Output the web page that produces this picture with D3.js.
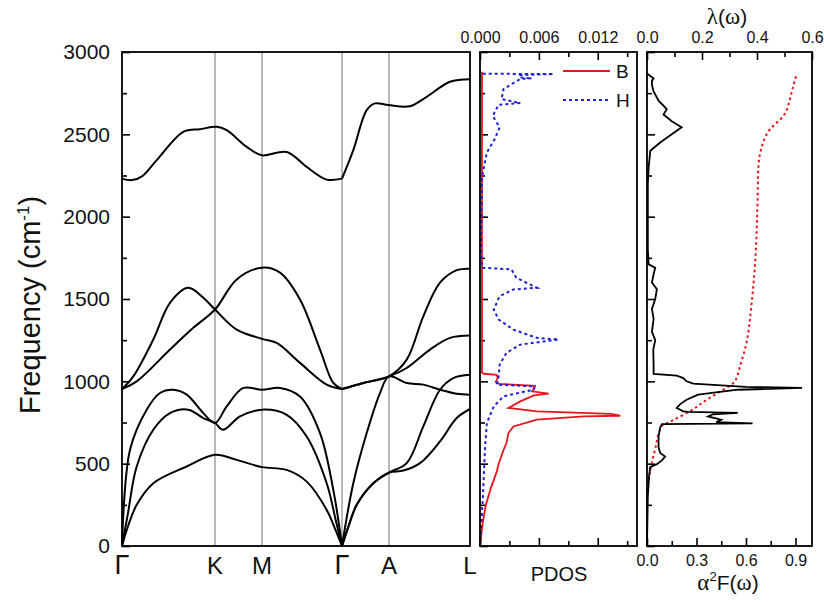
<!DOCTYPE html>
<html><head><meta charset="utf-8">
<script src="https://cdn.jsdelivr.net/npm/d3@7"></script>
<style>body{margin:0;background:#fff} svg text{font-family:Arial,"Liberation Sans",sans-serif;fill:#111}</style>
</head><body><svg id="c" width="824" height="602"></svg>
<script>
// ---- data ----
const kLabels = ["Γ","K","M","Γ","A","L"];
const kPos = [0, 0.93, 1.40, 2.20, 2.67, 3.48];
const freqMajor = [0, 500, 1000, 1500, 2000, 2500, 3000];
const freqMinor = [250, 750, 1250, 1750, 2250, 2750];

const band1 = [[0,0],[0.06,120],[0.147,250],[0.313,381],[0.647,483],[0.93,554],[1.147,523],[1.40,479],[1.647,462],[1.847,391],[2.047,219],[2.14,90],[2.20,0],
  [2.26,110],[2.347,250],[2.513,381],[2.67,446],[2.813,458],[2.98,503],[3.18,635],[3.347,777],[3.48,832]];
const band2 = [[0,0],[0.06,200],[0.147,483],[0.313,706],[0.48,807],[0.663,828],[0.813,777],[0.93,747],[1.01,706],[1.18,787],[1.40,828],[1.647,797],[1.847,665],[2.047,381],[2.14,150],[2.20,0],
  [2.26,110],[2.347,250],[2.513,381],[2.67,446],[2.847,503],[3.013,726],[3.18,949],[3.313,1020],[3.48,1040]];
const band3 = [[0,0],[0.08,584],[0.247,828],[0.38,929],[0.513,949],[0.647,919],[0.813,807],[0.93,747],[1.047,848],[1.213,960],[1.40,949],[1.58,960],[1.78,908],[1.98,686],[2.113,341],[2.20,0],
  [2.313,381],[2.447,686],[2.58,929],[2.67,1030],[2.847,990],[3.013,980],[3.18,949],[3.347,925],[3.48,919]];
const band4 = [[0,953],[0.113,1030],[0.313,1254],[0.48,1477],[0.663,1568],[0.813,1507],[0.93,1436],[1.147,1314],[1.40,1258],[1.547,1233],[1.78,1112],[2.047,980],[2.20,953],
  [2.413,990],[2.67,1030],[2.847,1132],[3.013,1395],[3.18,1599],[3.347,1675],[3.48,1684]];
const band5 = [[0,953],[0.147,1000],[0.48,1193],[0.713,1325],[0.93,1436],[1.147,1619],[1.40,1690],[1.58,1660],[1.78,1497],[1.98,1193],[2.113,990],[2.20,953],
  [2.413,990],[2.67,1030],[2.847,1081],[3.08,1193],[3.28,1264],[3.48,1278]];
const band6 = [[0,2231],[0.1,2222],[0.2,2245],[0.347,2343],[0.613,2515],[0.78,2531],[0.947,2546],[1.047,2525],[1.247,2424],[1.397,2373],[1.647,2393],[1.847,2302],[2.047,2225],[2.20,2231],
  [2.313,2404],[2.447,2647],[2.53,2688],[2.663,2678],[2.88,2671],[3.047,2728],[3.28,2819],[3.48,2834]];
const bands = [band1, band2, band3, band4, band5, band6];

// PDOS  [frequency, states]
const pdosB = [[0,0],[50,0.0001],[150,0.0003],[250,0.0006],[350,0.0011],[450,0.0017],[500,0.0019],[584,0.0024],[625,0.0027],[686,0.0029],[726,0.0034],[767,0.0058],[787,0.0106],[791,0.0143],[803,0.0133],[818,0.0058],[838,0.0029],[878,0.0041],[915,0.0055],[925,0.0070],[939,0.0053],[955,0.0055],[972,0.0056],[985,0.0020],[995,0.0016],[1020,0.0018],[1040,0.0017],[1046,0.0004],[1052,0.0002],[1500,0.0002],[2000,0.0002],[2880,0.0002]];
const pdosH = [[0,0],[100,0.0001],[300,0.0003],[584,0.0005],[747,0.0007],[848,0.0014],[909,0.0024],[949,0.0054],[969,0.0056],[980,0.0017],[1030,0.0019],[1101,0.0020],[1173,0.0027],[1223,0.0041],[1254,0.0080],[1264,0.0058],[1314,0.0034],[1375,0.0019],[1436,0.0014],[1517,0.0020],[1558,0.0034],[1568,0.0058],[1629,0.0037],[1680,0.0032],[1690,0.0002],[1800,0.0001],[2227,0.0002],[2268,0.0003],[2390,0.0007],[2471,0.0015],[2542,0.0020],[2612,0.0013],[2680,0.0019],[2690,0.0041],[2714,0.0022],[2775,0.0024],[2836,0.0041],[2840,0.0053],[2846,0.0040],[2860,0.0041],[2866,0.0075],[2868,0.0002]];
const pdosNames = ["B", "H"];

// Eliashberg function and lambda  [frequency, value]
const a2F = [[0,0],[300,0.005],[420,0.012],[480,0.02],[497,0.06],[520,0.09],[543,0.11],[565,0.08],[600,0.07],[665,0.07],[720,0.08],[740,0.09],[745,0.64],[752,0.42],[767,0.45],[787,0.37],[800,0.40],[808,0.55],[815,0.25],[818,0.22],[838,0.18],[860,0.20],[888,0.24],[919,0.31],[949,0.55],[960,0.94],[966,0.60],[975,0.45],[986,0.28],[1000,0.24],[1020,0.22],[1035,0.18],[1045,0.04],[1100,0.04],[1193,0.038],[1250,0.05],[1300,0.03],[1380,0.04],[1440,0.03],[1500,0.05],[1560,0.06],[1600,0.03],[1650,0.04],[1690,0.05],[1710,0.01],[1800,0.005],[2200,0.005],[2300,0.01],[2400,0.02],[2450,0.08],[2500,0.15],[2543,0.21],[2580,0.15],[2620,0.10],[2653,0.12],[2704,0.07],[2760,0.04],[2800,0.03],[2826,0.03],[2840,0.04],[2856,0.018],[2870,0]];
const lambda = [[0,0],[300,0.0],[381,0.005],[503,0.017],[584,0.029],[726,0.053],[760,0.09],[818,0.156],[888,0.217],[949,0.277],[990,0.314],[1040,0.33],[1091,0.338],[1193,0.356],[1500,0.382],[1800,0.396],[2100,0.402],[2300,0.405],[2410,0.415],[2530,0.447],[2612,0.496],[2714,0.52],[2755,0.526],[2866,0.544]];

const pdosMajor = [0, 0.006, 0.012], pdosMinor = [0.003, 0.009, 0.015];
const lamMajor = [0, 0.2, 0.4, 0.6], lamMinor = [0.1, 0.3, 0.5];
const a2fMajor = [0, 0.3, 0.6, 0.9], a2fMinor = [0.15, 0.45, 0.75];

// ---- layout ----
const svg = d3.select("#c");
const T = 52, B = 546;
const P1 = [122, 470], P2 = [480, 637], P3 = [647, 812];
const yF = d3.scaleLinear().domain([0, 3000]).range([B, T]);
const xK = d3.scaleLinear().domain([0, 3.48]).range(P1);
const xP = d3.scaleLinear().domain([0, 0.016]).range(P2);
const xA = d3.scaleLinear().domain([0, 1.0]).range(P3);
const xL = d3.scaleLinear().domain([0, 0.6]).range(P3);

function styleAxis(g, fs) {
  g.select(".domain").remove();
  g.selectAll(".tick line").attr("stroke", "#000").attr("stroke-width", 1.6);
  g.selectAll(".tick text").attr("font-size", fs).attr("fill", "#111").attr("font-family", "Arial, Liberation Sans, sans-serif");
}
function leftAxis(x0, labels) {
  const g = svg.append("g").attr("transform", `translate(${x0},0)`)
    .call(d3.axisLeft(yF).tickValues(freqMajor).tickSize(-8).tickPadding(12).tickFormat(labels ? d3.format("d") : ""));
  styleAxis(g, 21);
  const g2 = svg.append("g").attr("transform", `translate(${x0},0)`)
    .call(d3.axisLeft(yF).tickValues(freqMinor).tickSize(-5).tickFormat(""));
  styleAxis(g2, 21);
}
leftAxis(P1[0], true);
leftAxis(P2[0], false);
leftAxis(P3[0], false);

// high-symmetry vertical lines
svg.append("g").selectAll("line").data(kPos.slice(1, -1)).join("line")
  .attr("x1", d => xK(d)).attr("x2", d => xK(d)).attr("y1", T).attr("y2", B)
  .attr("stroke", "#888").attr("stroke-width", 1.2);

// k labels
svg.append("g").selectAll("text").data(kLabels).join("text")
  .attr("x", (d, i) => xK(kPos[i])).attr("y", 574).attr("text-anchor", "middle")
  .attr("font-size", d => d === "Γ" ? 27 : 24)
  .attr("font-family", d => d === "Γ" ? "Liberation Serif, serif" : "Arial, Liberation Sans, sans-serif")
  .text(d => d);

// bands
const bandLine = d3.line().x(d => xK(d[0])).y(d => yF(d[1])).curve(d3.curveCatmullRom.alpha(0.5));
const gB = svg.append("g");
bands.forEach(b => {
  const left = b.filter(d => d[0] <= 2.2), right = b.filter(d => d[0] >= 2.2);
  if (right[0][0] > 2.2) right.unshift(left[left.length - 1]);
  [left, right].forEach(seg => gB.append("path").attr("d", bandLine(seg))
    .attr("fill", "none").attr("stroke", "#000").attr("stroke-width", 2));
});

// PDOS
const pLine = d3.line().x(d => xP(d[1])).y(d => yF(d[0]));
svg.append("path").attr("d", pLine(pdosB)).attr("fill", "none").attr("stroke", "#e8141c").attr("stroke-width", 1.8);
svg.append("path").attr("d", pLine(pdosH)).attr("fill", "none").attr("stroke", "#1f1fd6").attr("stroke-width", 2).attr("stroke-dasharray", "3,3");

// legend
const lg = [{n: pdosNames[0], c: "#e8141c", d: null, y: 71}, {n: pdosNames[1], c: "#1f1fd6", d: "3,3", y: 100}];
lg.forEach(o => {
  svg.append("line").attr("x1", 563).attr("x2", 610).attr("y1", o.y).attr("y2", o.y)
    .attr("stroke", o.c).attr("stroke-width", 2).attr("stroke-dasharray", o.d);
  svg.append("text").attr("x", 616).attr("y", o.y + 7).attr("font-size", 19).text(o.n);
});

// a2F and lambda
const aLine = d3.line().x(d => xA(d[1])).y(d => yF(d[0]));
const lLine = d3.line().x(d => xL(d[1])).y(d => yF(d[0])).curve(d3.curveMonotoneY);
svg.append("path").attr("d", lLine(lambda)).attr("fill", "none").attr("stroke", "#e8141c").attr("stroke-width", 2).attr("stroke-dasharray", "2.5,3");
svg.append("path").attr("d", aLine(a2F)).attr("fill", "none").attr("stroke", "#000").attr("stroke-width", 1.8);

// top/bottom axes for panels 2,3
function hAxis(scale, y, major, minor, fmt, top) {
  const mk = top ? d3.axisTop : d3.axisBottom;
  const g = svg.append("g").attr("transform", `translate(0,${y})`)
    .call(mk(scale).tickValues(major).tickSize(-8).tickPadding(9).tickFormat(fmt || ""));
  styleAxis(g, 16);
  const g2 = svg.append("g").attr("transform", `translate(0,${y})`)
    .call(mk(scale).tickValues(minor).tickSize(-5).tickFormat(""));
  styleAxis(g2, 16);
}
hAxis(xP, T, pdosMajor, pdosMinor, d3.format(".3f"), true);
hAxis(xP, B, pdosMajor, pdosMinor, null, false);
hAxis(xL, T, lamMajor, lamMinor, d3.format(".1f"), true);
hAxis(xA, B, a2fMajor, a2fMinor, d3.format(".1f"), false);

// frames
[P1, P2, P3].forEach(p => svg.append("rect").attr("x", p[0]).attr("y", T).attr("width", p[1] - p[0]).attr("height", B - T)
  .attr("fill", "none").attr("stroke", "#000").attr("stroke-width", 1.8));

// titles
const yt = svg.append("text").attr("transform", "translate(40,305) rotate(-90)").attr("text-anchor", "middle").attr("font-size", 29);
yt.append("tspan").text("Frequency (cm");
yt.append("tspan").attr("font-size", 17).attr("dy", -11).text("-1");
yt.append("tspan").attr("dy", 11).text(")");

svg.append("text").attr("x", 559).attr("y", 581).attr("text-anchor", "middle").attr("font-size", 20).text("PDOS");

const lt = svg.append("text").attr("x", 727).attr("y", 24).attr("text-anchor", "middle").attr("font-size", 21);
lt.append("tspan").attr("font-family", "Liberation Serif, serif").attr("font-size", 23).text("λ");
lt.append("tspan").text("(");
lt.append("tspan").attr("font-family", "Liberation Serif, serif").attr("font-size", 23).text("ω");
lt.append("tspan").text(")");

const at = svg.append("text").attr("x", 728).attr("y", 590).attr("text-anchor", "middle").attr("font-size", 21);
at.append("tspan").attr("font-family", "Liberation Serif, serif").attr("font-size", 23).text("α");
at.append("tspan").attr("font-size", 13).attr("dy", -9).text("2");
at.append("tspan").attr("dy", 9).text("F(");
at.append("tspan").attr("font-family", "Liberation Serif, serif").attr("font-size", 23).text("ω");
at.append("tspan").text(")");
</script></body></html>
